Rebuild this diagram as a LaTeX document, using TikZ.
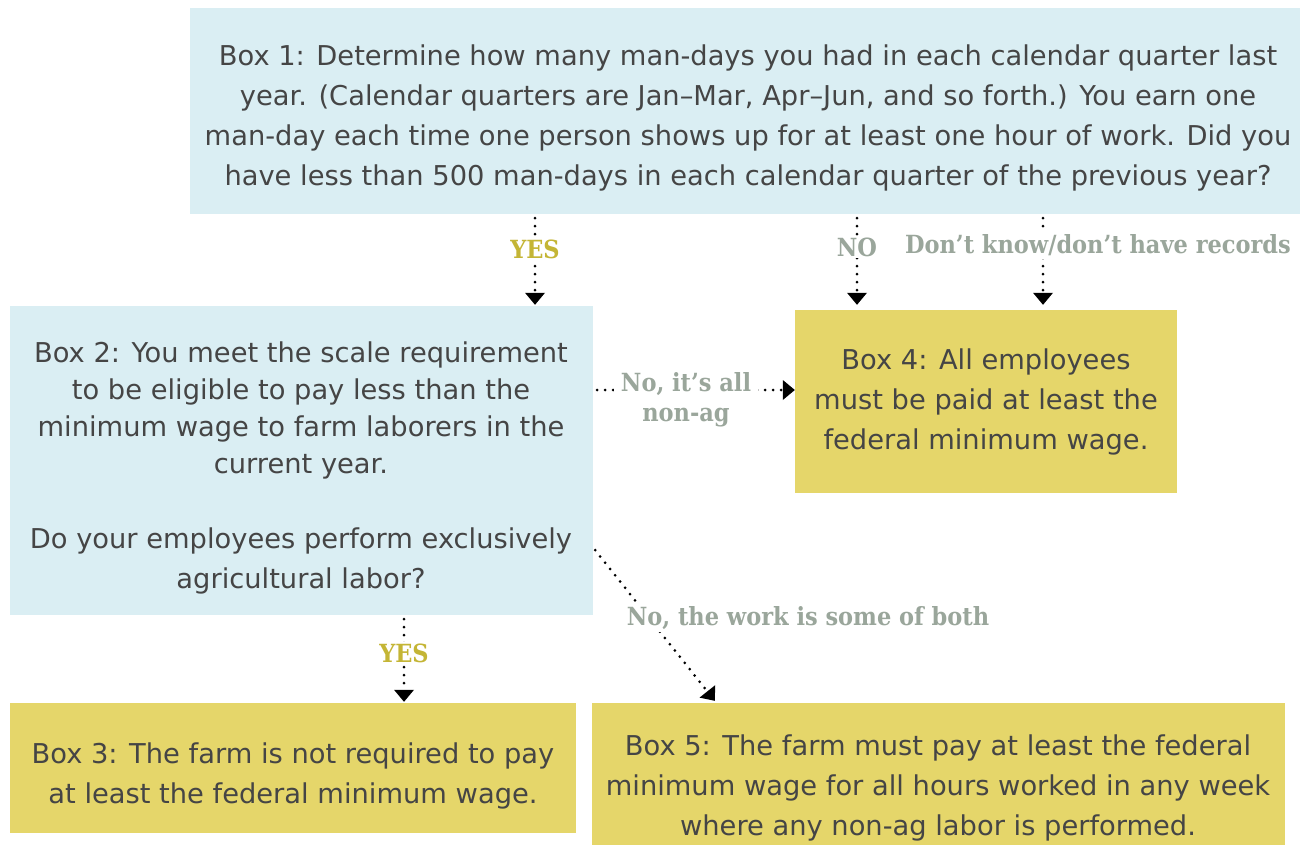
\documentclass[tikz,border=0pt]{standalone}
\usepackage{fontspec}
\setmainfont{DejaVu Sans}
\newfontfamily\labfont{DejaVu Serif Condensed}
\usetikzlibrary{arrows.meta,calc}
\definecolor{boxblue}{HTML}{DAEEF3}
\definecolor{boxyellow}{HTML}{E5D66A}
\definecolor{txt}{HTML}{454545}
\definecolor{labgray}{HTML}{9AA69B}
\definecolor{labyes}{HTML}{C4B535}
\tikzset{
  bluebox/.style={fill=boxblue, draw=none, inner sep=0pt, rectangle},
  yellowbox/.style={fill=boxyellow, draw=none, inner sep=0pt, rectangle},
  body/.style={text=txt, align=center, inner sep=0pt, font=\fontsize{27.3}{40}\selectfont},
  lab/.style={fill=white, inner sep=2pt, align=center, font=\labfont\bfseries\fontsize{25}{30}\selectfont},
  conn/.style={line width=3pt, line cap=round, dash pattern=on 0pt off 8pt, -{Triangle[width=20pt,length=12pt,line width=0pt]}}
}
\begin{document}
\begin{tikzpicture}[x=1pt,y=-1pt]
\useasboundingbox[fill=white] (0,0) rectangle (1306,845);
% boxes
\node[bluebox, minimum width=1110pt, minimum height=206pt] (b1) at (745,111) {};
\node[bluebox, minimum width=583pt, minimum height=309pt] (b2) at (301.5,460.5) {};
\node[yellowbox, minimum width=382pt, minimum height=183pt] (b4) at (986,401.5) {};
\node[yellowbox, minimum width=566pt, minimum height=130pt] (b3) at (293,768) {};
\node[yellowbox, minimum width=693pt, minimum height=142pt] (b5) at (938.5,774) {};
% texts
\node[body] (t1) at (748,118) {Box 1: Determine how many man-days you had in each calendar quarter last\\year. (Calendar quarters are Jan--Mar, Apr--Jun, and so forth.) You earn one\\man-day each time one person shows up for at least one hour of work. Did you\\have less than 500 man-days in each calendar quarter of the previous year?};
\node[body, font=\fontsize{27.3}{37}\selectfont] (t2) at (301,410) {Box 2: You meet the scale requirement\\to be eligible to pay less than the\\minimum wage to farm laborers in the\\current year.};
\node[body] (t2b) at (301,561) {Do your employees perform exclusively\\agricultural labor?};
\node[body] (t4) at (986,402) {Box 4: All employees\\must be paid at least the\\federal minimum wage.};
\node[body] (t3) at (293,776) {Box 3: The farm is not required to pay\\at least the federal minimum wage.};
\node[body] (t5) at (938,788) {Box 5: The farm must pay at least the federal\\minimum wage for all hours worked in any week\\where any non-ag labor is performed.};
% label positions
\coordinate (c1) at (535,249);
\coordinate (c2) at (857,247);
\coordinate (c3) at (1043,245);
\coordinate (c4) at (404,653);
\coordinate (c5) at (0,390);
% connectors
\draw[conn] (c1 |- b1.south) ++(0,4) -- ($(c1 |- b2.north)+(0,-1)$);
\draw[conn] (c2 |- b1.south) ++(0,4) -- ($(c2 |- b4.north)+(0,-5)$);
\draw[conn] (c3 |- b1.south) ++(0,4) -- ($(c3 |- b4.north)+(0,-5)$);
\draw[conn] (c4 |- b2.south) ++(0,4) -- ($(c4 |- b3.north)+(0,-1)$);
\draw[conn] ($(b2.east |- c5)+(4,0)$) -- (b4.west |- c5);
\draw[conn] ($(b2.south east)+(2,-65)$) -- ($(b5.north west)+(123,-2)$);
% labels
\node[lab, text=labyes] (l1) at (c1) {YES};
\node[lab, text=labgray] (l2) at (c2) {NO};
\node[lab, text=labgray, inner sep=3pt] (l3) at (1098,245) {Don’t know/don’t have records};
\node[lab, text=labyes] (l4) at (c4) {YES};
\node[lab, text=labgray, inner xsep=7pt] (l5) at (686,400) {No, it’s all\\non-ag};
\node[lab, text=labgray] (l6) at (808,618) {No, the work is some of both};
\end{tikzpicture}
\end{document}
